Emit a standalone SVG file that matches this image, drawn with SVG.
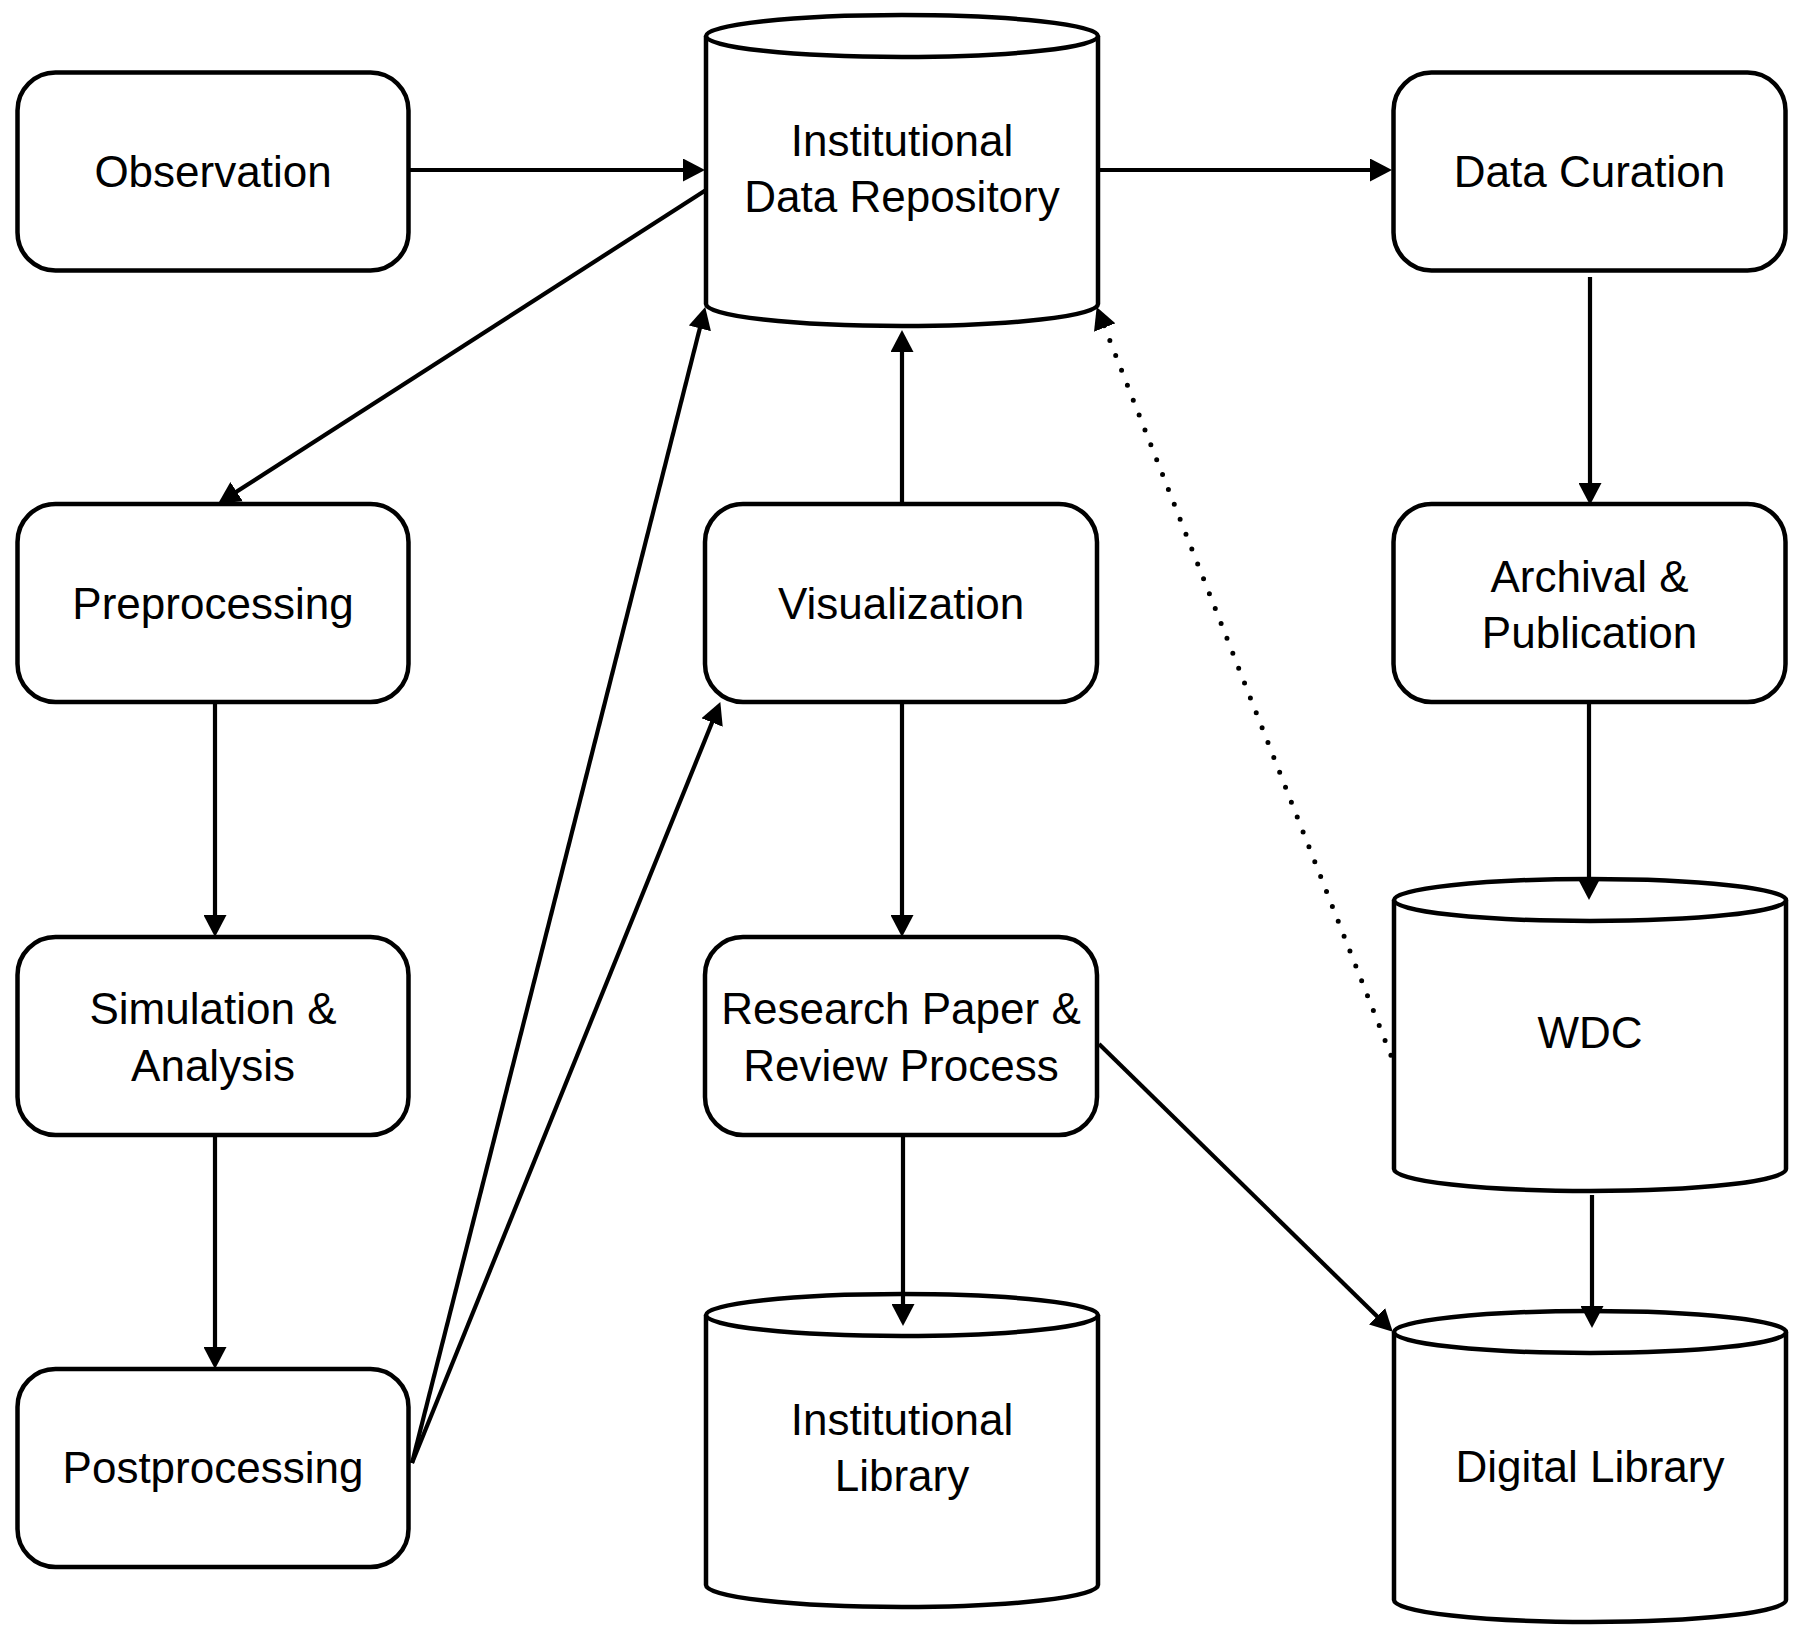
<svg xmlns="http://www.w3.org/2000/svg" width="1805" height="1639" viewBox="0 0 1805 1639">
<defs>
<marker id="arr" markerUnits="userSpaceOnUse" markerWidth="23" markerHeight="23" refX="11" refY="11.5" orient="auto-start-reverse" viewBox="0 0 23 23">
<path d="M0,0 L22,11.5 L0,23 Z" fill="#000"/>
</marker>
<style>
.box{fill:#fff;stroke:#000;stroke-width:4.5}
.cyl{fill:#fff;stroke:#000;stroke-width:4.5;stroke-linejoin:round}
.lbl{font-family:"Liberation Sans",Arial,sans-serif;font-size:44px;fill:#000;text-anchor:middle}
.edge{fill:none;stroke:#000;stroke-width:4.2}
.dot{fill:none;stroke:#000;stroke-width:5;stroke-linecap:round;stroke-dasharray:0 16;stroke-dashoffset:7}
</style>
</defs>
<rect width="1805" height="1639" fill="#fff"/>

<g id="observation">
<rect class="box" x="17.5" y="72.5" width="391" height="198" rx="38" ry="38"/>
<text class="lbl" x="213" y="187">Observation</text>
</g>

<g id="institutional-data-repository">
<path class="cyl" d="M706,36 L706,304 A196,22 0 0 0 1098,304 L1098,36 A196,21 0 0 0 706,36 Z"/>
<path class="cyl" fill="none" d="M706,36 A196,21 0 0 0 1098,36"/>
<text class="lbl" x="902" y="156">Institutional</text>
<text class="lbl" x="902" y="212">Data Repository</text>
</g>

<g id="data-curation">
<rect class="box" x="1393.5" y="72.5" width="392" height="198" rx="38" ry="38"/>
<text class="lbl" x="1589.5" y="187">Data Curation</text>
</g>

<g id="preprocessing">
<rect class="box" x="17.5" y="504" width="391" height="198" rx="38" ry="38"/>
<text class="lbl" x="213" y="619">Preprocessing</text>
</g>

<g id="visualization">
<rect class="box" x="705" y="504" width="392" height="198" rx="38" ry="38"/>
<text class="lbl" x="901" y="619">Visualization</text>
</g>

<g id="archival-publication">
<rect class="box" x="1393.5" y="504" width="392" height="198" rx="38" ry="38"/>
<text class="lbl" x="1589.5" y="592">Archival &amp;</text>
<text class="lbl" x="1589.5" y="648">Publication</text>
</g>

<g id="simulation-analysis">
<rect class="box" x="17.5" y="937" width="391" height="198" rx="38" ry="38"/>
<text class="lbl" x="213" y="1024">Simulation &amp;</text>
<text class="lbl" x="213" y="1081">Analysis</text>
</g>

<g id="research-paper">
<rect class="box" x="705" y="937" width="392" height="198" rx="38" ry="38"/>
<text class="lbl" x="901" y="1024">Research Paper &amp;</text>
<text class="lbl" x="901" y="1081">Review Process</text>
</g>

<g id="wdc">
<path class="cyl" d="M1394,900 L1394,1169 A196,22 0 0 0 1786,1169 L1786,900 A196,21 0 0 0 1394,900 Z"/>
<path class="cyl" fill="none" d="M1394,900 A196,21 0 0 0 1786,900"/>
<text class="lbl" x="1590" y="1048">WDC</text>
</g>

<g id="postprocessing">
<rect class="box" x="17.5" y="1369" width="391" height="198" rx="38" ry="38"/>
<text class="lbl" x="213" y="1483">Postprocessing</text>
</g>

<g id="institutional-library">
<path class="cyl" d="M706,1315 L706,1585 A196,22 0 0 0 1098,1585 L1098,1315 A196,21 0 0 0 706,1315 Z"/>
<path class="cyl" fill="none" d="M706,1315 A196,21 0 0 0 1098,1315"/>
<text class="lbl" x="902" y="1435">Institutional</text>
<text class="lbl" x="902" y="1491">Library</text>
</g>

<g id="digital-library">
<path class="cyl" d="M1394,1332 L1394,1600 A196,22 0 0 0 1786,1600 L1786,1332 A196,21 0 0 0 1394,1332 Z"/>
<path class="cyl" fill="none" d="M1394,1332 A196,21 0 0 0 1786,1332"/>
<text class="lbl" x="1590" y="1482">Digital Library</text>
</g>

<g id="connectors">
<path class="edge" marker-end="url(#arr)" d="M409,170 L694,170"/>
<path class="edge" marker-end="url(#arr)" d="M1098,170 L1381,170"/>
<path class="edge" marker-end="url(#arr)" d="M706,190 L227.4,497.6"/>
<path class="edge" marker-end="url(#arr)" d="M1590,277 L1590,494"/>
<path class="edge" marker-end="url(#arr)" d="M215,702 L215,926"/>
<path class="edge" marker-end="url(#arr)" d="M215,1135 L215,1358"/>
<path class="edge" marker-end="url(#arr)" d="M412,1463 L702.5,317.7"/>
<path class="edge" marker-end="url(#arr)" d="M412,1463 L716.2,712.3"/>
<path class="edge" marker-end="url(#arr)" d="M902,504 L902,341"/>
<path class="edge" marker-end="url(#arr)" d="M902,702 L902,926"/>
<path class="edge" marker-end="url(#arr)" d="M903,1135 L903,1315"/>
<path class="edge" marker-end="url(#arr)" d="M1099,1044 L1384.9,1324"/>
<path class="edge" marker-end="url(#arr)" d="M1589,702 L1589,889"/>
<path class="edge" marker-end="url(#arr)" d="M1592,1195 L1592,1317"/>
<path class="dot" marker-start="url(#arr)" d="M1100.7,317.3 L1392,1058"/>
</g>
</svg>
